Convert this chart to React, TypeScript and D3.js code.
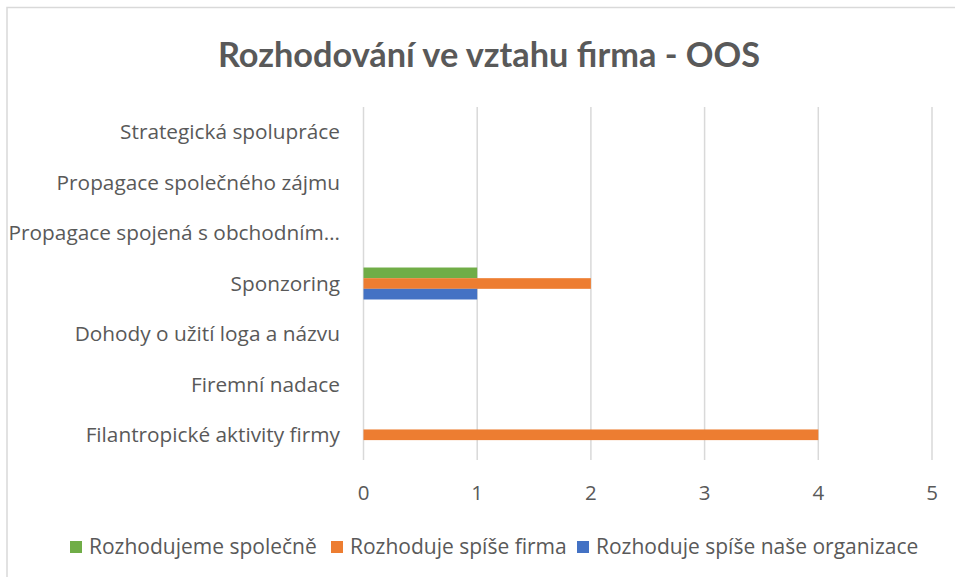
import React from "react";
import * as d3 from "d3";

const categories = [
  "Strategická spolupráce",
  "Propagace společného zájmu",
  "Propagace spojená s obchodním…",
  "Sponzoring",
  "Dohody o užití loga a názvu",
  "Firemní nadace",
  "Filantropické aktivity firmy",
];
const seriesNames = [
  "Rozhodujeme společně",
  "Rozhoduje spíše firma",
  "Rozhoduje spíše naše organizace",
];
const spolecne = [0, 0, 0, 1, 0, 0, 0];
const firma = [0, 0, 0, 2, 0, 0, 4];
const organizace = [0, 0, 0, 1, 0, 0, 0];
const seriesColors = ["#70AD47", "#ED7D31", "#4472C4"];
const xTicks = [0, 1, 2, 3, 4, 5];
const title = "Rozhodování ve vztahu firma - OOS";

const W = 955;
const H = 577;
const FONT = "'Open Sans', sans-serif";
const TITLE_FONT = "Lato, sans-serif";
const TEXT = "#595959";

export default function App() {
  const values = [spolecne, firma, organizace];
  const left = 363.5;
  const right = 932;
  const top = 107;
  const bottom = 460;
  const x = d3.scaleLinear().domain([0, 5]).range([left, right]);
  const y = d3.scaleBand<string>().domain(categories).range([top, bottom]).padding(0);
  const groupH = y.bandwidth() * 0.634;
  const inner = d3
    .scaleBand<string>()
    .domain(seriesNames)
    .range([(y.bandwidth() - groupH) / 2, (y.bandwidth() + groupH) / 2])
    .padding(0);

  const legendX = [70, 331, 577];

  return (
    <svg
      width={W}
      height={H}
      style={{ position: "absolute", left: 0, top: 0, display: "block" }}
      fontFamily={FONT}
    >
      <rect x={0} y={0} width={W} height={H} fill="#fff" />
      <rect x={7} y={7.5} width={W + 10} height={H + 10} fill="none" stroke="#D9D9D9" strokeWidth={1.5} />
      <text x={489} y={67} textAnchor="middle" fontSize={34.3} fontWeight="bold" fill={TEXT} fontFamily={TITLE_FONT}>
        {title}
      </text>
      {xTicks.map((t) => (
        <g key={t}>
          <line x1={x(t)} x2={x(t)} y1={top} y2={bottom} stroke="#D9D9D9" strokeWidth={1.5} />
          <text x={x(t)} y={493} dy="0.35em" textAnchor="middle" fontSize={20.5} fill={TEXT}>
            {t}
          </text>
        </g>
      ))}
      {categories.map((c) => (
        <text
          key={c}
          x={340}
          y={(y(c) as number) + y.bandwidth() / 2}
          dy="0.35em"
          textAnchor="end"
          fontSize={20.8}
          fill={TEXT}
        >
          {c}
        </text>
      ))}
      {seriesNames.map((s, si) =>
        categories.map((c, ci) =>
          values[si][ci] > 0 ? (
            <rect
              key={s + c}
              x={x(0)}
              y={(y(c) as number) + (inner(s) as number)}
              width={x(values[si][ci]) - x(0)}
              height={inner.bandwidth()}
              fill={seriesColors[si]}
            />
          ) : null
        )
      )}
      {seriesNames.map((s, i) => (
        <g key={s}>
          <rect x={legendX[i]} y={541} width={12} height={12} fill={seriesColors[i]} />
          <text x={legendX[i] + 19} y={547} dy="0.35em" fontSize={21} fill={TEXT}>
            {s}
          </text>
        </g>
      ))}
    </svg>
  );
}
